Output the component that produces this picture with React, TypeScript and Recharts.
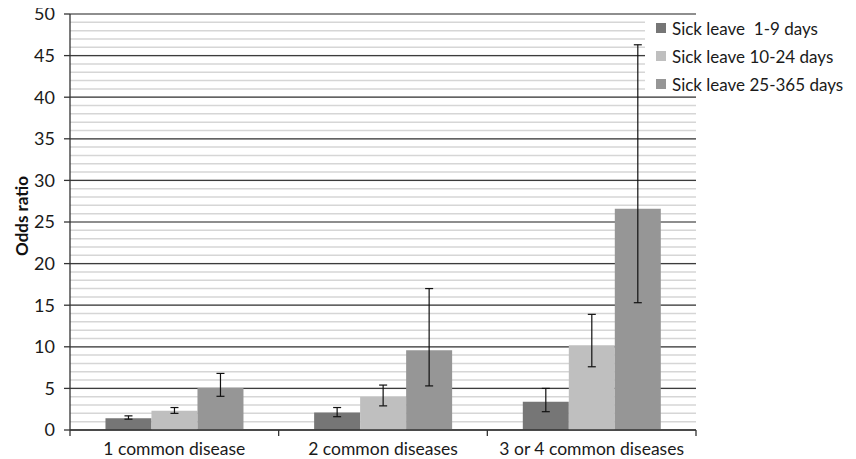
import React from "react";
import { BarChart, Bar, XAxis, YAxis, CartesianGrid, ErrorBar } from "recharts";

const CATEGORIES = ["1 common disease", "2 common diseases", "3 or 4 common diseases"];
const SERIES_NAMES = ["Sick leave  1-9 days", "Sick leave 10-24 days", "Sick leave 25-365 days"];
const SERIES_COLORS = ["#767676", "#bfbfbf", "#969696"];

// odds ratios with 95% CI
const OR_1_9 = [1.4, 2.1, 3.4];
const LOW_1_9 = [1.3, 1.6, 2.2];
const HIGH_1_9 = [1.7, 2.7, 5.0];

const OR_10_24 = [2.3, 4.0, 10.2];
const LOW_10_24 = [2.0, 2.9, 7.6];
const HIGH_10_24 = [2.7, 5.4, 13.9];

const OR_25_365 = [5.05, 9.6, 26.6];
const LOW_25_365 = [4.05, 5.3, 15.3];
const HIGH_25_365 = [6.8, 17.0, 46.3];

const MAJOR_TICKS = [0, 5, 10, 15, 20, 25, 30, 35, 40, 45, 50];
const MINOR_TICKS = Array.from({ length: 51 }, (_, i) => i);

const FONT = "Lato, 'Noto Sans', sans-serif";

const data = CATEGORIES.map((name, i) => ({
  name,
  a: OR_1_9[i],
  aErr: [OR_1_9[i] - LOW_1_9[i], HIGH_1_9[i] - OR_1_9[i]],
  b: OR_10_24[i],
  bErr: [OR_10_24[i] - LOW_10_24[i], HIGH_10_24[i] - OR_10_24[i]],
  c: OR_25_365[i],
  cErr: [OR_25_365[i] - LOW_25_365[i], HIGH_25_365[i] - OR_25_365[i]],
}));

function CategoryTick(props: any) {
  const { x, y, payload, index, visibleTicksCount } = props;
  const half = payload.offset ?? 0;
  const axisY = y - 13;
  const last = index === visibleTicksCount - 1;
  return (
    <g>
      <line x1={x - half} x2={x - half} y1={axisY} y2={axisY + 6} stroke="#333" strokeWidth={1.3} />
      {last && (
        <line x1={x + half} x2={x + half} y1={axisY} y2={axisY + 6} stroke="#333" strokeWidth={1.3} />
      )}
      <text x={x} y={y} dy="0.71em" textAnchor="middle" fontSize={17.5} fill="#1a1a1a" fontFamily={FONT}>
        {payload.value}
      </text>
    </g>
  );
}

function YTitle(props: any) {
  const vb = props.viewBox || {};
  const cx = (vb.x ?? 0) + 13;
  const cy = (vb.y ?? 0) + (vb.height ?? 0) / 2 - 6;
  return (
    <text
      x={cx}
      y={cy}
      transform={`rotate(-90, ${cx}, ${cy})`}
      textAnchor="middle"
      dominantBaseline="central"
      fontSize={17}
      fontWeight="bold"
      fill="#111"
      fontFamily={FONT}
    >
      Odds ratio
    </text>
  );
}

export default function App() {
  return (
    <div style={{ position: "relative", width: 848, height: 450, fontFamily: FONT }}>
      <BarChart
        width={848}
        height={450}
        data={data}
        margin={{ top: 6, right: 160, left: 0, bottom: 0 }}
        barCategoryGap="17%"
        barGap={0}
      >
        <CartesianGrid
          vertical={false}
          stroke="#d6d6d6"
          strokeWidth={1.5}
          {...({ horizontalValues: MINOR_TICKS } as any)}
        />
        <CartesianGrid vertical={false} stroke="#3c3c3c" strokeWidth={1.2} />
        <XAxis
          dataKey="name"
          height={28}
          tickSize={6}
          tickMargin={7}
          tickLine={false}
          axisLine={{ stroke: "#333", strokeWidth: 1.3 }}
          tick={<CategoryTick />}
          interval={0}
        />
        <YAxis
          width={62}
          domain={[0, 50]}
          ticks={MAJOR_TICKS}
          interval={0}
          tickSize={6}
          tickMargin={9}
          axisLine={{ stroke: "#333", strokeWidth: 1.3 }}
          tickLine={{ stroke: "#333", strokeWidth: 1.3 }}
          tick={{ fill: "#1a1a1a", fontSize: 18, fontFamily: FONT }}
          label={<YTitle />}
        />
        <Bar dataKey="a" name={SERIES_NAMES[0]} fill={SERIES_COLORS[0]} isAnimationActive={false}>
          <ErrorBar dataKey="aErr" width={4} stroke="#111" strokeWidth={1.2} />
        </Bar>
        <Bar dataKey="b" name={SERIES_NAMES[1]} fill={SERIES_COLORS[1]} isAnimationActive={false}>
          <ErrorBar dataKey="bErr" width={4} stroke="#111" strokeWidth={1.2} />
        </Bar>
        <Bar dataKey="c" name={SERIES_NAMES[2]} fill={SERIES_COLORS[2]} isAnimationActive={false}>
          <ErrorBar dataKey="cErr" width={4} stroke="#111" strokeWidth={1.2} />
        </Bar>
      </BarChart>
      <div
        style={{
          position: "absolute",
          left: 637,
          top: 8,
          width: 208,
          height: 78,
          background: "#fff",
        }}
      >
        <div style={{ position: "relative", top: -2 }}>
          {SERIES_NAMES.map((n, i) => (
            <div key={n} style={{ height: 28, display: "flex", alignItems: "center" }}>
              <span
                style={{
                  display: "inline-block",
                  width: 10,
                  height: 10,
                  marginLeft: 11,
                  marginRight: 6,
                  background: SERIES_COLORS[i],
                }}
              />
              <span style={{ fontSize: 17, color: "#1a1a1a", whiteSpace: "pre" }}>{n}</span>
            </div>
          ))}
        </div>
      </div>
    </div>
  );
}
